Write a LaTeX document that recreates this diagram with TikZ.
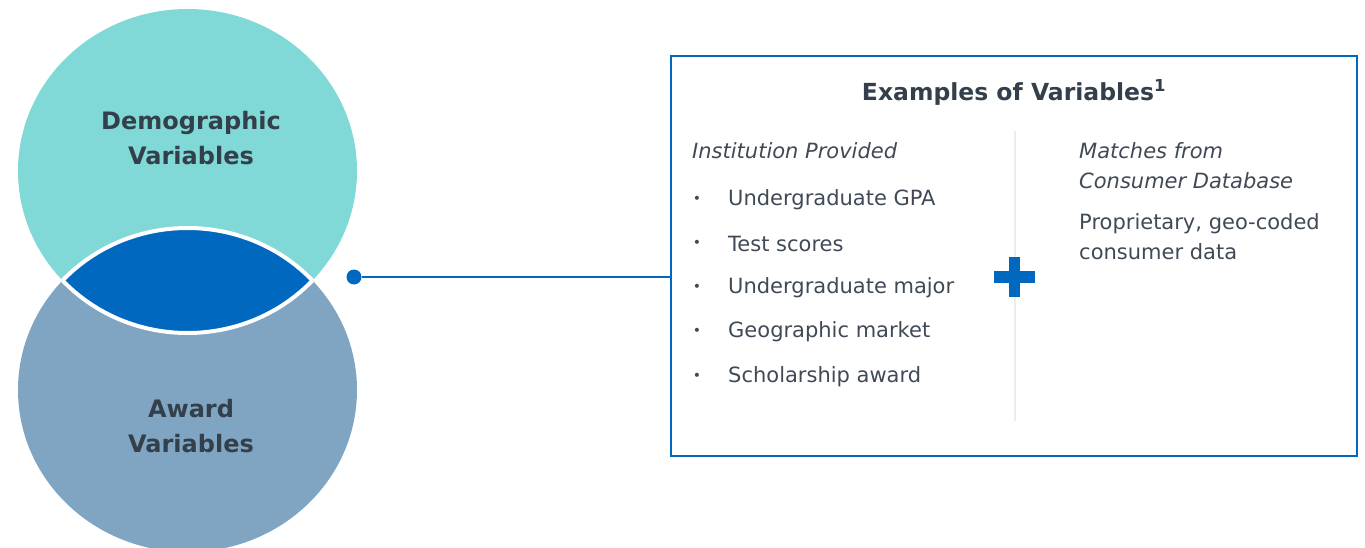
\documentclass[tikz,border=0pt]{standalone}
\usepackage{fontspec}
\setmainfont{DejaVu Sans}
\usetikzlibrary{positioning}
\definecolor{cTeal}{HTML}{80D9D6}
\definecolor{cSlate}{HTML}{80A5C3}
\definecolor{cBlue}{HTML}{0068BF}
\definecolor{cInk}{HTML}{333F4B}
\definecolor{cText}{HTML}{3F4A56}
\definecolor{cRule}{HTML}{EDEDED}

\begin{document}
\begin{tikzpicture}[
  x=1pt,y=-1pt,
  lbl/.style={font=\fontsize{24}{35}\selectfont\bfseries,text=cInk,align=center},
  ttl/.style={font=\fontsize{23.5}{25}\selectfont\bfseries,text=cInk},
  hdr/.style={font=\fontsize{21}{30}\selectfont\itshape,text=cText,anchor=west,align=left,inner sep=0pt},
  itm/.style={font=\fontsize{21}{30}\selectfont,text=cText,anchor=west,align=left,inner sep=0pt},
  blt/.style={font=\fontsize{14}{14}\selectfont,text=cText,inner sep=0pt},
  ln/.style={draw=cBlue,line width=2pt}
]
\useasboundingbox (0,0) rectangle (1365,548);

% ---- diagrama de venn
\fill[cTeal]  (187.5,171) ellipse [x radius=169.5,y radius=162];
\fill[cSlate] (187.5,390) ellipse [x radius=169.5,y radius=162];
\begin{scope}
  \clip (187.5,171) ellipse [x radius=169.5,y radius=162];
  \fill[cBlue,draw=white,line width=4pt] (187.5,390) ellipse [x radius=169.5,y radius=162];
\end{scope}
\begin{scope}
  \clip (187.5,390) ellipse [x radius=169.5,y radius=162];
  \draw[white,line width=4pt] (187.5,171) ellipse [x radius=169.5,y radius=162];
\end{scope}
\node[lbl] (demo)  at (191,138) {Demographic\\Variables};
\node[lbl] (award) at (191,426) {Award\\Variables};

% ---- conector
\node[circle,fill=cBlue,inner sep=0pt,minimum size=15pt] (dot) at (354,277) {};
\node[draw=cBlue,line width=2.5pt,minimum width=686pt,minimum height=400pt,inner sep=0pt] (box) at (1014,256) {};
\draw[ln] (dot) -- (dot -| box.west);

% ---- quadro
\node[ttl] (title) at (1014,92) {Examples of Variables\textsuperscript{1}};
\draw[cRule,line width=2pt] (1015,131) -- (1015,421);
\fill[cBlue] (994,271) rectangle (1035,282.5);
\fill[cBlue] (1008.7,256.5) rectangle (1020.3,297);

% ---- coluna esquerda
\node[hdr] (inst) at (692,151) {Institution Provided};
\foreach \y/\t [count=\i] in {200/Undergraduate GPA,244/Test scores,288/Undergraduate major,332/Geographic market,377/Scholarship award}{
  \node[blt] (b\i) at (697,\y) {•};
  \node[itm] (i\i) at (728,\y) {\t};
}

% ---- coluna direita
\node[hdr] (cons) at (1079,166) {Matches from\\Consumer Database};
\node[itm] (prop) at (1079,237) {Proprietary, geo-coded\\consumer data};
\end{tikzpicture}
\end{document}
